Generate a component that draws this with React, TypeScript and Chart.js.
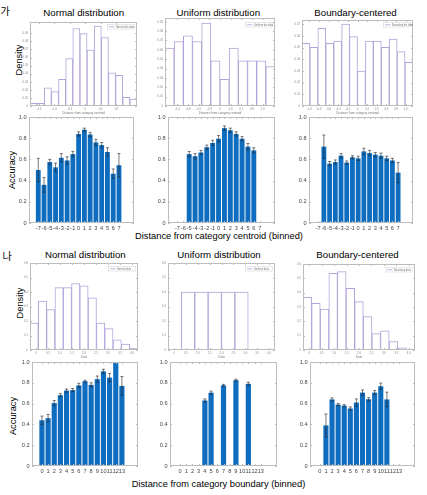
import React, { useEffect, useRef } from 'react';
import { Chart, registerables } from 'chart.js';

Chart.register(...registerables);

const FONT = "'Liberation Sans', Arial, Helvetica, sans-serif";
const KFONT = "'Noto Sans CJK KR', 'Noto Sans CJK SC', sans-serif";
Chart.defaults.font.family = FONT;

// ---------------- data ----------------
const centroidBins = ['-7', '-6', '-5', '-4', '-3', '-2', '-1', '0', '1', '2', '3', '4', '5', '6', '7'];
const boundaryBins = ['0', '1', '2', '3', '4', '5', '6', '7', '8', '9', '10', '11', '12', '13'];

// 가 : density histograms (distance from category centroid)
const normalCentroidDensity = [0.0033, 0.0033, 0.0226, 0.0177, 0.0329, 0.0588, 0.0959, 0.0897, 0.0691, 0.0988, 0.0848, 0.0412, 0.0379, 0.0107, 0.0086];
const uniformCentroidDensity = [0.0618, 0.0689, 0.075, 0.0689, 0.0886, 0.0482, 0.0286, 0.0618, 0.0482, 0.0482, 0.0482, 0.0421];
const boundaryCentroidDensity = [0.0537, 0.0503, 0.0666, 0.0537, 0.0557, 0.0703, 0.0594, 0.03, 0.0557, 0.0557, 0.0503, 0.0574, 0.0466, 0.0374];
const normalCentroidTicks = [-1.5, -1, -0.5, 0, 0.5, 1];
const uniformCentroidTicks = [-1, -0.75, -0.5, -0.25, 0, 0.25, 0.5, 0.75, 1];
const boundaryCentroidTicks = [-1, -0.8, -0.6, -0.4, -0.2, 0, 0.2, 0.4, 0.6, 0.8, 1];

// 가 : accuracy
const normalCentroidAcc = [0.5, 0.36, 0.575, 0.525, 0.615, 0.59, 0.65, 0.84, 0.88, 0.835, 0.76, 0.735, 0.67, 0.465, 0.545];
const normalCentroidErr = [0.11, 0.07, 0.025, 0.04, 0.04, 0.035, 0.025, 0.02, 0.015, 0.02, 0.03, 0.025, 0.04, 0.045, 0.11];
const uniformCentroidAcc = [null, null, 0.65, 0.63, 0.665, 0.715, 0.755, 0.795, 0.895, 0.875, 0.84, 0.795, 0.72, 0.685, null];
const uniformCentroidErr = [null, null, 0.025, 0.025, 0.02, 0.02, 0.025, 0.03, 0.02, 0.02, 0.02, 0.02, 0.03, 0.025, null];
const boundaryCentroidAcc = [null, 0.72, 0.56, 0.575, 0.635, 0.57, 0.62, 0.61, 0.675, 0.66, 0.645, 0.635, 0.61, 0.59, 0.475];
const boundaryCentroidErr = [null, 0.11, 0.02, 0.02, 0.02, 0.015, 0.015, 0.02, 0.03, 0.025, 0.02, 0.025, 0.02, 0.02, 0.095];

// 나 : density histograms (data)
const normalDataDensity = [0.186, 0.337, 0.279, 0.43, 0.43, 0.458, 0.442, 0.36, 0.186, 0.147, 0.07, 0.04, 0.012];
const uniformDataDensity = [null, 0.4, 0.4, 0.4, 0.4, 0.4, null, null];
const boundaryDataDensity = [0.367, 0.326, 0.286, 0.535, 0.547, 0.43, 0.337, 0.233, 0.114, 0.133, 0.058, 0.016, 0.005];
const dataTicks = [0, 0.5, 1, 1.5, 2, 2.5, 3, 3.5, 4];

// 나 : accuracy
const normalBoundaryAcc = [0.44, 0.46, 0.605, 0.68, 0.725, 0.73, 0.775, 0.815, 0.78, 0.835, 0.91, 0.85, 1.0, 0.77];
const normalBoundaryErr = [0.04, 0.035, 0.025, 0.015, 0.015, 0.015, 0.02, 0.01, 0.02, 0.03, 0.02, 0.04, 0, 0.09];
const uniformBoundaryAcc = [null, null, null, null, 0.63, 0.705, null, 0.775, null, 0.825, null, 0.79, null, null];
const uniformBoundaryErr = [null, null, null, null, 0.015, 0.015, null, 0.01, null, 0.01, null, 0.015, null, null];
const boundaryBoundaryAcc = [null, 0.39, 0.64, 0.59, 0.58, 0.553, 0.61, 0.706, 0.642, 0.706, 0.767, 0.64, null, null];
const boundaryBoundaryErr = [null, 0.11, 0.015, 0.01, 0.01, 0.015, 0.035, 0.025, 0.015, 0.02, 0.03, 0.07, null, null];

const accTicks = [0, 0.2, 0.4, 0.6, 0.8, 1];

// ---------------- styles ----------------
const BAR_BLUE = '#0f6dbf';
const HIST_EDGE = '#b3a3da';
const FRAME = '#bdbdbd';
const PAD_T = 3;
const PAD_R = 3;
const YW_D = 12;
const XH_D = 9;
const YW_A = 22;
const XH_A = 10;

// ---------------- plugins ----------------
const framePlugin = {
  id: 'frame',
  afterDraw(chart: any, _a: any, opts: any) {
    const { left, right, top, bottom } = chart.chartArea;
    const ctx = chart.ctx;
    ctx.save();
    ctx.strokeStyle = FRAME;
    ctx.lineWidth = 1;
    ctx.strokeRect(Math.round(left) + 0.5, Math.round(top) + 0.5, Math.round(right - left) - 1, Math.round(bottom - top) - 1);
    const xs = chart.scales[opts.xId || 'x'];
    const ys = chart.scales.y;
    ctx.beginPath();
    xs.ticks.forEach((t: any) => {
      const px = Math.round(xs.getPixelForValue(t.value)) + 0.5;
      ctx.moveTo(px, bottom);
      ctx.lineTo(px, bottom - 2);
      ctx.moveTo(px, top);
      ctx.lineTo(px, top + 2);
    });
    ys.ticks.forEach((t: any) => {
      const py = Math.round(ys.getPixelForValue(t.value)) + 0.5;
      ctx.moveTo(left, py);
      ctx.lineTo(left + 2, py);
      ctx.moveTo(right, py);
      ctx.lineTo(right - 2, py);
    });
    ctx.stroke();
    ctx.restore();
  },
};

const boxLegendPlugin = {
  id: 'boxLegend',
  afterDraw(chart: any, _a: any, opts: any) {
    if (!opts || !opts.text) return;
    const ctx = chart.ctx;
    const { right, top } = chart.chartArea;
    const w = 27;
    const h = 4.5;
    const x = right - w - 2.5;
    const y = top + (opts.dy ?? 2.5);
    ctx.save();
    ctx.fillStyle = '#fff';
    ctx.fillRect(x, y, w, h);
    ctx.strokeStyle = '#cfcfcf';
    ctx.lineWidth = 0.5;
    ctx.strokeRect(x, y, w, h);
    ctx.strokeStyle = HIST_EDGE;
    ctx.lineWidth = 0.8;
    ctx.beginPath();
    ctx.moveTo(x + 1.5, y + h / 2);
    ctx.lineTo(x + 7, y + h / 2);
    ctx.stroke();
    ctx.fillStyle = '#777';
    ctx.font = `2.6px ${FONT}`;
    ctx.textBaseline = 'middle';
    ctx.fillText(opts.text, x + 8.5, y + h / 2 + 0.2);
    ctx.restore();
  },
};

const errorBarPlugin = {
  id: 'errbars',
  afterDatasetsDraw(chart: any) {
    const ds = chart.data.datasets[0];
    const errs = ds.errors;
    if (!errs) return;
    const meta = chart.getDatasetMeta(0);
    const ys = chart.scales.y;
    const ctx = chart.ctx;
    ctx.save();
    ctx.strokeStyle = '#222';
    ctx.lineWidth = 0.6;
    ctx.beginPath();
    meta.data.forEach((el: any, i: number) => {
      const p = ds.data[i];
      const e = errs[i];
      if (p.y == null || e == null || e === 0) return;
      const x = el.x;
      const y1 = ys.getPixelForValue(p.y - e);
      const y2 = ys.getPixelForValue(Math.min(p.y + e, 1.2));
      ctx.moveTo(x, y1);
      ctx.lineTo(x, y2);
      ctx.moveTo(x - 1.5, y1);
      ctx.lineTo(x + 1.5, y1);
      ctx.moveTo(x - 1.5, y2);
      ctx.lineTo(x + 1.5, y2);
    });
    ctx.stroke();
    ctx.restore();
  },
};

// ---------------- config builders ----------------
function stepFilter(step: number, max: number) {
  return (s: any) => {
    s.ticks = s.ticks.filter((t: any) => {
      const q = t.value / step;
      return Math.abs(q - Math.round(q)) < 1e-6 && t.value <= max + 1e-9;
    });
  };
}

function histConfig(values: (number | null)[], xMin: number, xMax: number, xTicks: number[], yMax: number, yStep: number, legend: string, xTitle: string, legendDy: number) {
  return {
    type: 'bar',
    data: {
      labels: values.map((_, i) => String(i)),
      datasets: [
        {
          data: values,
          backgroundColor: '#ffffff',
          borderColor: HIST_EDGE,
          borderWidth: 1,
          borderSkipped: 'start',
          barPercentage: 1,
          categoryPercentage: 1,
        },
      ],
    },
    options: {
      animation: false,
      responsive: false,
      maintainAspectRatio: false,
      events: [],
      layout: { padding: { top: PAD_T, right: PAD_R, left: 0, bottom: 0 } },
      plugins: {
        legend: { display: false },
        tooltip: { enabled: false },
        frame: { xId: 'x2' },
        boxLegend: { text: legend, dy: legendDy },
      },
      scales: {
        x: { type: 'category', display: false, offset: true },
        x2: {
          type: 'linear',
          position: 'bottom',
          axis: 'x',
          min: xMin,
          max: xMax,
          afterBuildTicks: (s: any) => {
            s.ticks = xTicks.map((v) => ({ value: v }));
          },
          ticks: { font: { size: 2.8 }, color: '#888', padding: 1.5, autoSkip: false, maxRotation: 0, minRotation: 0 },
          grid: { display: false, drawTicks: false },
          border: { display: false },
          title: { display: true, text: xTitle, font: { size: 3 }, color: '#777', padding: { top: 0, bottom: 0 } },
          afterFit: (s: any) => {
            s.height = XH_D;
            s.paddingLeft = 0;
            s.paddingRight = 0;
          },
        },
        y: {
          min: 0,
          max: yMax,
          ticks: { stepSize: yStep, font: { size: 2.8 }, color: '#888', padding: 2 },
          afterBuildTicks: stepFilter(yStep, yMax),
          grid: { display: false, drawTicks: false },
          border: { display: false },
          afterFit: (s: any) => {
            s.width = YW_D;
            s.paddingTop = 0;
            s.paddingBottom = 0;
          },
        },
      },
    },
    plugins: [framePlugin, boxLegendPlugin],
  };
}

function accConfig(bins: string[], values: (number | null)[], errs: (number | null)[], xMin: number, xMax: number) {
  return {
    type: 'bar',
    data: {
      datasets: [
        {
          data: bins.map((b, i) => ({ x: Number(b), y: values[i] })),
          errors: errs,
          backgroundColor: BAR_BLUE,
          barPercentage: 0.84,
          categoryPercentage: 1,
        },
      ],
    },
    options: {
      animation: false,
      responsive: false,
      maintainAspectRatio: false,
      events: [],
      layout: { padding: { top: PAD_T, right: PAD_R, left: 0, bottom: 0 } },
      plugins: {
        legend: { display: false },
        tooltip: { enabled: false },
        frame: { xId: 'x' },
      },
      scales: {
        x: {
          type: 'linear',
          min: xMin,
          max: xMax,
          afterBuildTicks: (s: any) => {
            s.ticks = bins.map((b) => ({ value: Number(b) }));
          },
          ticks: {
            font: { size: 5.6 },
            color: '#444',
            padding: 2,
            autoSkip: false,
            maxRotation: 0,
            minRotation: 0,
            callback: (v: any) => String(v),
          },
          grid: { display: false, drawTicks: false },
          border: { display: false },
          afterFit: (s: any) => {
            s.height = XH_A;
            s.paddingLeft = 0;
            s.paddingRight = 0;
          },
        },
        y: {
          min: 0,
          max: 1,
          afterBuildTicks: (s: any) => {
            s.ticks = accTicks.map((v) => ({ value: v }));
          },
          ticks: { font: { size: 5.6 }, color: '#444', padding: 2.5 },
          grid: { display: false, drawTicks: false },
          border: { display: false },
          afterFit: (s: any) => {
            s.width = YW_A;
            s.paddingTop = 0;
            s.paddingBottom = 0;
          },
        },
      },
    },
    plugins: [framePlugin, errorBarPlugin],
  };
}

// ---------------- components ----------------
type Box = { l: number; t: number; r: number; b: number };

function Panel({ box, yw, xh, make }: { box: Box; yw: number; xh: number; make: () => any }) {
  const ref = useRef<HTMLCanvasElement>(null);
  const w = box.r - box.l + yw + PAD_R;
  const h = box.b - box.t + PAD_T + xh;
  useEffect(() => {
    const chart = new Chart(ref.current as HTMLCanvasElement, make());
    return () => chart.destroy();
  }, []);
  return (
    <canvas
      ref={ref}
      width={w}
      height={h}
      style={{ position: 'absolute', left: box.l - yw, top: box.t - PAD_T, width: w, height: h }}
    />
  );
}

function Txt({ x, y, size, children, rotate = false, family = FONT }: any) {
  return (
    <div
      style={{
        position: 'absolute',
        left: x,
        top: y,
        transform: `translate(-50%, -50%)${rotate ? ' rotate(-90deg)' : ''}`,
        fontSize: size,
        fontFamily: family,
        lineHeight: 1,
        whiteSpace: 'nowrap',
        color: '#000',
      }}
    >
      {children}
    </div>
  );
}

export default function App() {
  return (
    <div style={{ position: 'absolute', left: 0, top: 0, width: 427, height: 495, background: '#fff', overflow: 'hidden' }}>
      <Txt x={5} y={10.5} size={10} family={KFONT}>가</Txt>
      <Txt x={83.7} y={12.5} size={9.7}>Normal distribution</Txt>
      <Txt x={218.3} y={12.5} size={9.7}>Uniform distribution</Txt>
      <Txt x={355.5} y={12.5} size={9.7}>Boundary-centered</Txt>
      <Txt x={19.5} y={60} size={9.3} rotate>Density</Txt>
      <Txt x={13} y={170} size={9.3} rotate>Accuracy</Txt>
      <Txt x={219} y={236.5} size={9.3}>Distance from category centroid (binned)</Txt>

      <Txt x={7} y={255.5} size={10} family={KFONT}>나</Txt>
      <Txt x={85.3} y={254.5} size={9.7}>Normal distribution</Txt>
      <Txt x={219} y={254.5} size={9.7}>Uniform distribution</Txt>
      <Txt x={357.5} y={254.5} size={9.7}>Boundary-centered</Txt>
      <Txt x={20.5} y={302.5} size={9.3} rotate>Density</Txt>
      <Txt x={14} y={416} size={9.3} rotate>Accuracy</Txt>
      <Txt x={218.5} y={485} size={9.3}>Distance from category boundary (binned)</Txt>

      <Panel box={{ l: 30, t: 22, r: 137, b: 106 }} yw={YW_D} xh={XH_D}
        make={() => histConfig(normalCentroidDensity, -1.5, 1.385, normalCentroidTicks, 0.104, 0.01, 'Normal bin data', 'Distance from category centroid', 2.5)} />
      <Panel box={{ l: 165, t: 18, r: 275, b: 106 }} yw={YW_D} xh={XH_D}
        make={() => histConfig(uniformCentroidDensity, -1.15, 1.15, uniformCentroidTicks, 0.094, 0.01, 'Uniform bin data', 'Distance from category centroid', 4.5)} />
      <Panel box={{ l: 302, t: 20, r: 413, b: 106 }} yw={YW_D} xh={XH_D}
        make={() => histConfig(boundaryCentroidDensity, -1.05, 1.05, boundaryCentroidTicks, 0.0737, 0.01, 'Boundary bin data', 'Distance from category centroid', 2.5)} />

      <Panel box={{ l: 29, t: 117, r: 134, b: 223 }} yw={YW_A} xh={XH_A}
        make={() => accConfig(centroidBins, normalCentroidAcc, normalCentroidErr, -8, 9)} />
      <Panel box={{ l: 168, t: 117, r: 275, b: 223 }} yw={YW_A} xh={XH_A}
        make={() => accConfig(centroidBins, uniformCentroidAcc, uniformCentroidErr, -8, 9)} />
      <Panel box={{ l: 309, t: 117, r: 413, b: 223 }} yw={YW_A} xh={XH_A}
        make={() => accConfig(centroidBins, boundaryCentroidAcc, boundaryCentroidErr, -8, 9)} />

      <Panel box={{ l: 30, t: 263, r: 138, b: 350 }} yw={YW_D} xh={XH_D}
        make={() => histConfig(normalDataDensity, 0, 4, dataTicks, 0.6, 0.1, 'Normal data', 'Data', 3.5)} />
      <Panel box={{ l: 168, t: 263, r: 275, b: 350 }} yw={YW_D} xh={XH_D}
        make={() => histConfig(uniformDataDensity, 0, 4, dataTicks, 0.6, 0.1, 'Uniform data', 'Data', 3.5)} />
      <Panel box={{ l: 303, t: 264, r: 415, b: 350 }} yw={YW_D} xh={XH_D}
        make={() => histConfig(boundaryDataDensity, 0, 4, dataTicks, 0.6, 0.1, 'Boundary data', 'Data', 3.5)} />

      <Panel box={{ l: 32, t: 362, r: 138, b: 466 }} yw={YW_A} xh={XH_A}
        make={() => accConfig(boundaryBins, normalBoundaryAcc, normalBoundaryErr, -1, 15)} />
      <Panel box={{ l: 170, t: 362, r: 277, b: 466 }} yw={YW_A} xh={XH_A}
        make={() => accConfig(boundaryBins, uniformBoundaryAcc, uniformBoundaryErr, -1, 15)} />
      <Panel box={{ l: 310, t: 362, r: 415, b: 466 }} yw={YW_A} xh={XH_A}
        make={() => accConfig(boundaryBins, boundaryBoundaryAcc, boundaryBoundaryErr, -1, 15)} />
    </div>
  );
}
